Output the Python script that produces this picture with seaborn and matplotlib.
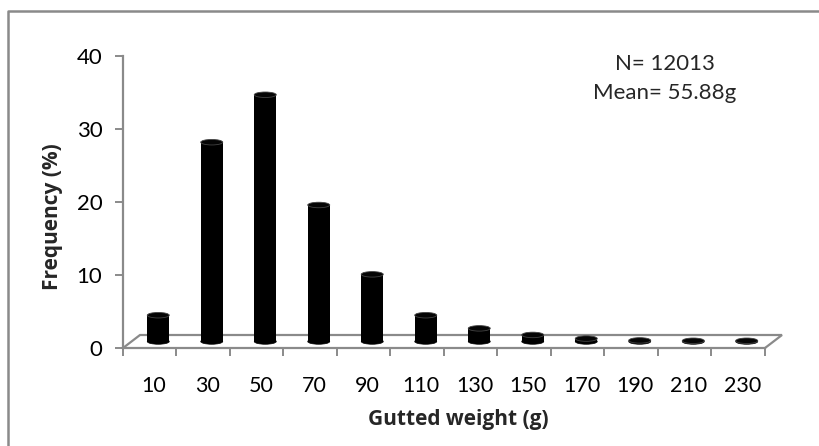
import matplotlib
matplotlib.use("Agg")
import matplotlib.pyplot as plt
import matplotlib.transforms as mtransforms
from matplotlib.patches import Ellipse
from matplotlib.lines import Line2D
import seaborn as sns
import pandas as pd

# ---- data ----
weight_classes = ["10", "30", "50", "70", "90", "110", "130", "150", "170", "190", "210", "230"]
frequency_pct = [3.6, 27.3, 33.8, 18.7, 9.2, 3.6, 1.8, 0.9, 0.4, 0.15, 0.1, 0.1]
y_ticks = [0, 10, 20, 30, 40]
annotation_lines = ["N= 12013", "Mean= 55.88g"]

df = pd.DataFrame({"Gutted weight (g)": weight_classes, "Frequency (%)": frequency_pct})

sns.set_style("white")
plt.rcParams["font.family"] = ["Lato", "DejaVu Sans"]

W, H = 820, 446
fig = plt.figure(figsize=(W / 100, H / 100), dpi=100)
GRAY = "#8a8a8a"

def fx(px):
    return px / W

def fy(py):
    return (H - py) / H

# front plane axes (axis lines, ticks, labels)
x0, x1, y0, y1 = 123, 765, 348, 56
ax = fig.add_axes([fx(x0), fy(y0), fx(x1) - fx(x0), fy(y1) - fy(y0)])
ax.set_facecolor("none")
ax.set_xlim(-0.5, len(weight_classes) - 0.5)
ax.set_ylim(0, 40)
for s in ["top", "right"]:
    ax.spines[s].set_visible(False)
for s in ["left", "bottom"]:
    ax.spines[s].set_color(GRAY)
    ax.spines[s].set_linewidth(1.6)

ax.set_yticks(y_ticks)
ax.tick_params(axis="y", direction="out", length=5.8, width=1.4, color=GRAY, left=True,
               labelsize=16, pad=9, labelcolor="black")
ax.set_xticks(range(len(weight_classes)))
ax.set_xticklabels(weight_classes)
ax.set_xticks([i - 0.5 for i in range(len(weight_classes) + 1)], minor=True)
ax.tick_params(axis="x", which="major", length=0, labelsize=15.5, pad=20, labelcolor="black")
ax.tick_params(axis="x", which="minor", direction="out", length=5.8, width=1.4, color=GRAY,
               bottom=True)
offset = mtransforms.ScaledTranslation(4 / 100, 0, fig.dpi_scale_trans)
for lbl in ax.get_xticklabels():
    lbl.set_transform(lbl.get_transform() + offset)

bold_font = dict(fontsize=15, fontweight="bold", family=["Open Sans", "DejaVu Sans"])
ax.set_ylabel("Frequency (%)", **bold_font)
ax.set_xlabel("Gutted weight (g)", **bold_font)
ax.yaxis.set_label_coords((63 - x0) / (x1 - x0), (y0 - 217) / (y0 - y1))
ax.xaxis.set_label_coords((458 - x0) / (x1 - x0), (y0 - 409) / (y0 - y1))

# floor outline (3D depth)
px_per_cat = (x1 - x0) / len(weight_classes)
px_per_unit = (y0 - y1) / 40
ddx, ddy = 17 / px_per_cat, 13 / px_per_unit
n = len(weight_classes)
ax.plot([-0.5, -0.5 + ddx, n - 0.5 + ddx, n - 0.5], [0, ddy, ddy, 0],
        color=GRAY, lw=1.6, clip_on=False, solid_joinstyle="miter")

# bars in the mid-depth plane
bax = fig.add_axes([fx(x0 + 8.5), fy(y0 - 6.5), fx(x1) - fx(x0), fy(y1) - fy(y0)])
bax.set_xlim(-0.5, n - 0.5)
bax.set_ylim(0, 40)
bax.axis("off")
bax.set_facecolor("none")
bar_w = 22 / px_per_cat
sns.barplot(data=df, x="Gutted weight (g)", y="Frequency (%)", color="black",
            width=bar_w, saturation=1, ax=bax, linewidth=0)
bax.set_xlim(-0.5, n - 0.5)
bax.set_ylim(0, 40)
ell_h = 5.5 / px_per_unit
for p in list(bax.patches):
    cx = p.get_x() + p.get_width() / 2
    top = p.get_y() + p.get_height()
    bax.add_patch(Ellipse((cx, p.get_y()), p.get_width(), ell_h, facecolor="black",
                          edgecolor="black", lw=0.5, clip_on=False, zorder=3))
    bax.add_patch(Ellipse((cx, top), p.get_width(), ell_h, facecolor="#050505",
                          edgecolor="#444444", lw=0.6, clip_on=False, zorder=4))

# annotation
fig.text(fx(665), fy(64), annotation_lines[0], ha="center", va="center", fontsize=16)
fig.text(fx(665), fy(93), annotation_lines[1], ha="center", va="center", fontsize=16)

# chart border (left and top visible)
fig.add_artist(Line2D([fx(8), fx(8), 1.0], [0.0, fy(11), fy(11)], color=GRAY, lw=1.8,
                      transform=fig.transFigure))

fig.savefig("out.png", dpi=100)
